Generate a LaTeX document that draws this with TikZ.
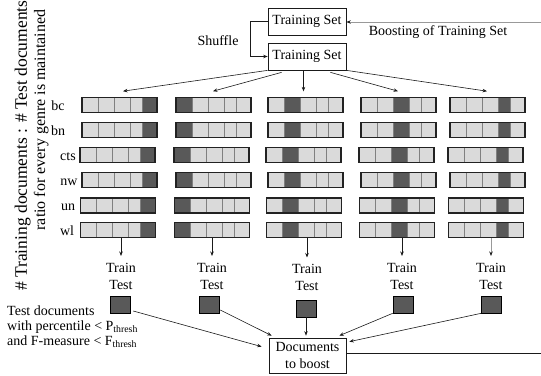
\documentclass[tikz,border=0pt]{standalone}
\usepackage{fontspec}
\setmainfont{Liberation Serif}
\usetikzlibrary{arrows.meta,calc}
\definecolor{lightcell}{HTML}{DADADA}
\definecolor{darkcell}{HTML}{595959}
\definecolor{cellline}{HTML}{808080}
\definecolor{barline}{HTML}{222222}
\definecolor{lineclr}{HTML}{1A1A1A}
\tikzset{
 arr/.style={draw=lineclr, line width=0.6pt, -{Stealth[length=4.5pt,width=3.5pt]}},
 garr/.style={draw=gray!80, line width=0.7pt, -{Stealth[length=4.5pt,width=3.5pt,color=lineclr]}},
 tbox/.style={draw=lineclr, line width=0.7pt, minimum width=78pt, minimum height=27pt, inner sep=0pt},
 bar/.style={draw=barline, line width=1.6pt, minimum width=75pt, minimum height=15pt, inner sep=0pt},
 sq/.style={draw=black, line width=0.6pt, fill=darkcell, minimum width=20pt, minimum height=17pt, inner sep=0pt},
 txt/.style={inner sep=0pt, anchor=base},
 rottxt/.style={rotate=90, inner sep=0pt, font=\fontsize{16}{18}\selectfont},
}
\begin{document}
\begin{tikzpicture}[x=1pt,y=-1pt,font=\fontsize{14}{16}\selectfont]
\clip (0,0) rectangle (541,375);
% rotated side text
\node[rottxt, anchor=base west, font=\fontsize{17.5}{19}\selectfont] (rot1) at (27,291) {\# Training documents : \# Test documents};
\node[rottxt, anchor=base] (rot2) at (45,120) {ratio for every genre is maintained};

% bars
\foreach \c/\xs/\d in {1/82/5, 2/176/1, 3/268/2, 4/361/3, 5/450/4}{
  \foreach \r/\y/\o in {1/105/0, 2/130/0, 3/155/-2, 4/180/0, 5/205.5/-1.5, 6/230/-1.5}{
    \pgfmathsetmacro\xl{\xs+\o}
    \pgfmathsetmacro\da{\xl+{0,16,32,48,60,75}[\d-1]}
    \pgfmathsetmacro\db{\xl+{0,16,32,48,60,75}[\d]}
    \fill[lightcell] (\xl,\y-7.5) rectangle ++(75,15);
    \fill[darkcell] (\da,\y-7.5) rectangle (\db,\y+7.5);
    \foreach \k in {16,32,48,60} \draw[cellline, line width=0.8pt] (\xl+\k,\y-7.5) -- ++(0,15);
    \node[bar] (b\c\r) at (\xl+37.5,\y) {};
  }
}

% row labels
\foreach \r/\y/\x/\lab in {1/105/58/bc, 2/130/58/bn, 3/155/68/cts, 4/180/69/nw, 5/205.5/68/un, 6/230/67/wl}
  \node[txt] (lab\r) at (\x,\y+5) {\lab};

% training set boxes
\node[tbox] (ts1) at (307,21.5) {Training Set};
\node[tbox] (ts2) at (307,56.5) {Training Set};
\node[txt] (shuf) at (218,45) {Shuffle};
\node[txt] (boost) at (438,35) {Boosting of Training Set};
\coordinate (rtop) at (541,22);
\draw[garr] (rtop) -- (ts1.east |- rtop);
\draw[arr] (ts1.west) -- ++(-17,0) |- (ts2.west);

% arrows to bar columns
\draw[arr] (ts2.south west) -- ($(b11.north)+(3.5,-5.5)$);
\draw[arr] ($(ts2.south west)+(14,2)$) -- ($(b21.north)+(-0.5,-5.5)$);
\draw[arr] ($(ts2.south)+(-3.5,0)$) -- ($(ts2.south)+(-3.5,21)$);
\draw[arr] ($(ts2.south east)+(-16,2)$) -- ($(b41.north)+(-0.5,-5.5)$);
\draw[arr] (ts2.south east) -- ($(b51.north)+(-0.5,-5.5)$);

% train / test
\foreach \c/\x/\dy in {1/121/0, 2/212/0, 3/307/1.5, 4/402/0, 5/491/0}{
  \node[txt] (tr\c) at (\x,272+\dy) {Train};
  \node[txt] (te\c) at (\x,289+\dy) {Test};
}
\foreach \c in {1,2,3,4}
  \draw[arr] (tr\c.base |- b\c6.south) -- ($(tr\c.base)+(0,-16)$);
\draw[garr] (tr5.base |- b56.south) -- ($(tr5.base)+(0,-16)$);

% squares
\node[sq] (sq1) at (120.5,305) {};
\node[sq] (sq2) at (209,305) {};
\node[sq] (sq3) at (306,308.5) {};
\node[sq] (sq4) at (403,304.5) {};
\node[sq] (sq5) at (491.5,304.5) {};

% note text
\node[txt, anchor=base west] (n1) at (7,315) {Test documents};
\node[txt, anchor=base west] (n2) at (7,330.5) {with percentile < P\textsubscript{thresh}};
\node[txt, anchor=base west] (n3) at (7,345) {and F-measure < F\textsubscript{thresh}};

% documents to boost
\node[tbox, minimum width=77pt, minimum height=35pt, align=center, font=\fontsize{14}{16.6}\selectfont] (docs) at (307.5,355.5) {Documents\\to boost};

\draw[arr] ($(sq1.east)+(2.5,6)$) -- ($(docs.north west)+(-7,9)$);
\draw[arr] ($(sq2.east)+(1,5)$) -- ($(docs.north west)+(3,-2)$);
\draw[arr] (sq3.south) -- (sq3.south |- docs.north) [shorten >=2pt];
\draw[arr] (sq4.south west) -- ($(docs.north east)+(-7,-2)$);
\draw[arr] (sq5.south west) -- ($(docs.north east)+(3,4)$);

\coordinate (rbot) at (541,353);
\draw[draw=lineclr, line width=0.7pt] (docs.east |- rbot) -- (rbot);
\end{tikzpicture}
\end{document}
